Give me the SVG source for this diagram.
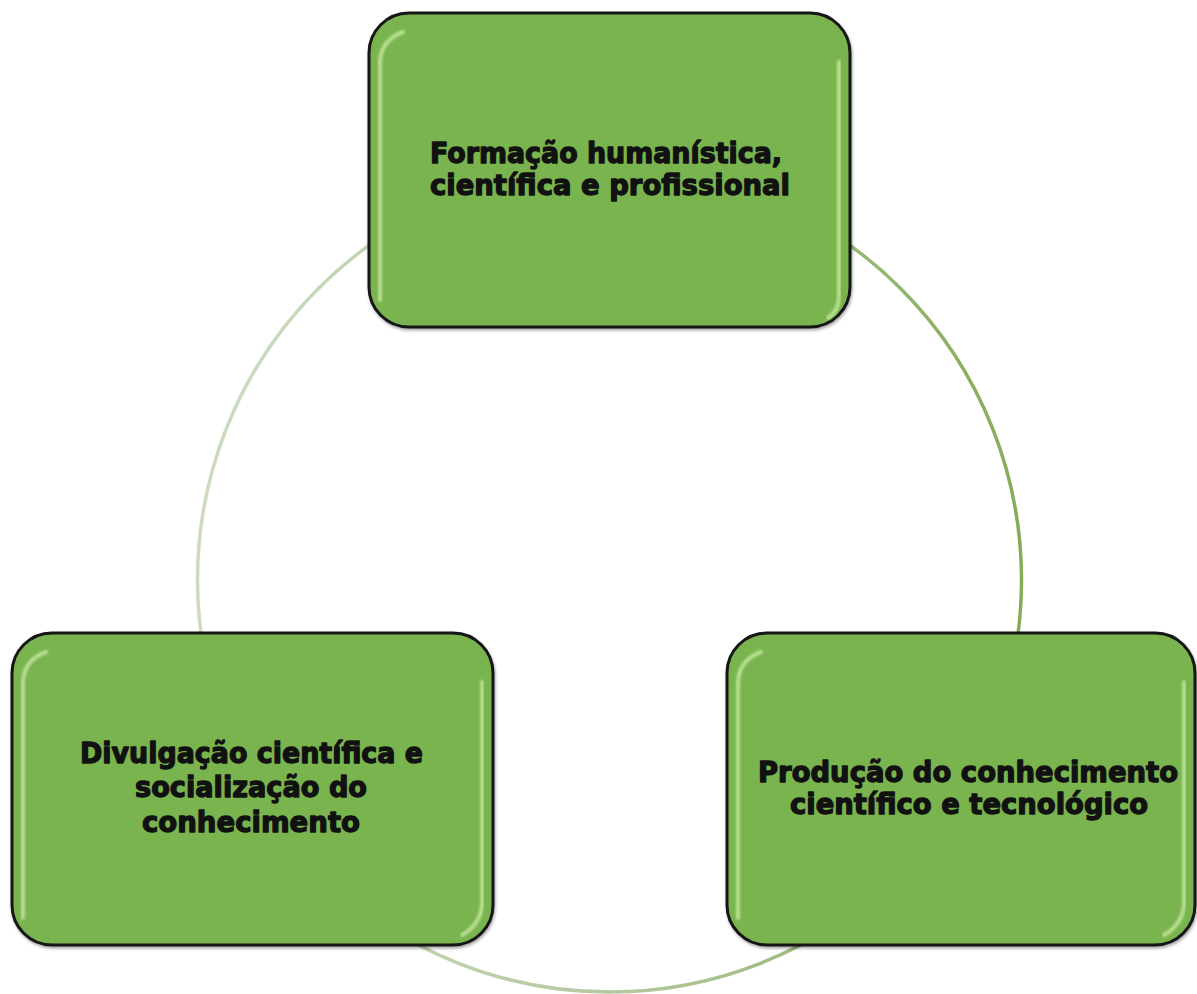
<svg xmlns="http://www.w3.org/2000/svg" width="1197" height="994" viewBox="0 0 1197 994">
  <style>
    .box { fill: #7ab450; stroke: #151515; stroke-width: 3; }
    .gloss { fill: none; stroke: #cdeea6; stroke-width: 4; stroke-linecap: round; opacity: 0.75; }
    .label { font-family: "DejaVu Sans", "Liberation Sans", sans-serif; font-weight: bold; font-size: 28px; fill: #111; text-anchor: middle; stroke: #111; stroke-width: 1.3; stroke-linejoin: round; }
  </style>
  <defs>
    <linearGradient id="ring" gradientUnits="userSpaceOnUse" x1="197" y1="0" x2="1022" y2="0">
      <stop offset="0" stop-color="#cddcc0"/>
      <stop offset="0.5" stop-color="#b4c9a0"/>
      <stop offset="1" stop-color="#84ad58"/>
    </linearGradient>
    <filter id="shadow" x="-5%" y="-5%" width="110%" height="110%">
      <feDropShadow dx="1" dy="2" stdDeviation="1.5" flood-color="#000" flood-opacity="0.35"/>
    </filter>
    <filter id="soft" x="-10%" y="-10%" width="120%" height="120%">
      <feGaussianBlur stdDeviation="1.2"/>
    </filter>
  </defs>
  <rect width="1197" height="994" fill="#ffffff"/>

  <g id="connectors">
    <circle cx="609.5" cy="580" r="412" fill="none" stroke="url(#ring)" stroke-width="3.5"/>
  </g>

  <g id="node-formacao">
    <rect class="box" x="369" y="13" width="481" height="314" rx="40" filter="url(#shadow)"/>
    <path class="gloss" filter="url(#soft)" d="M380 300 L380 62 Q381 40 403 32"/>
    <path class="gloss" filter="url(#soft)" d="M839 62 L839 298 Q838 312 828 318"/>
    <text class="label" x="606" y="163" textLength="352" lengthAdjust="spacingAndGlyphs">Formação humanística,</text>
    <text class="label" x="610" y="195" textLength="360" lengthAdjust="spacingAndGlyphs">científica e profissional</text>
  </g>

  <g id="node-divulgacao">
    <rect class="box" x="12" y="633" width="481" height="312" rx="40" filter="url(#shadow)"/>
    <path class="gloss" filter="url(#soft)" d="M23 918 L23 682 Q24 660 46 652"/>
    <path class="gloss" filter="url(#soft)" d="M482 682 L482 905 Q480 925 462 935"/>
    <text class="label" x="251.5" y="763" textLength="343" lengthAdjust="spacingAndGlyphs">Divulgação científica e</text>
    <text class="label" x="251" y="797" textLength="232" lengthAdjust="spacingAndGlyphs">socialização do</text>
    <text class="label" x="251" y="832" textLength="218" lengthAdjust="spacingAndGlyphs">conhecimento</text>
  </g>

  <g id="node-producao">
    <rect class="box" x="727" y="633" width="468" height="312" rx="40" filter="url(#shadow)"/>
    <path class="gloss" filter="url(#soft)" d="M738 918 L738 682 Q739 660 761 652"/>
    <path class="gloss" filter="url(#soft)" d="M1184 682 L1184 905 Q1182 925 1164 935"/>
    <text class="label" x="968" y="782" textLength="420" lengthAdjust="spacingAndGlyphs">Produção do conhecimento</text>
    <text class="label" x="969" y="814" textLength="358" lengthAdjust="spacingAndGlyphs">científico e tecnológico</text>
  </g>
</svg>
